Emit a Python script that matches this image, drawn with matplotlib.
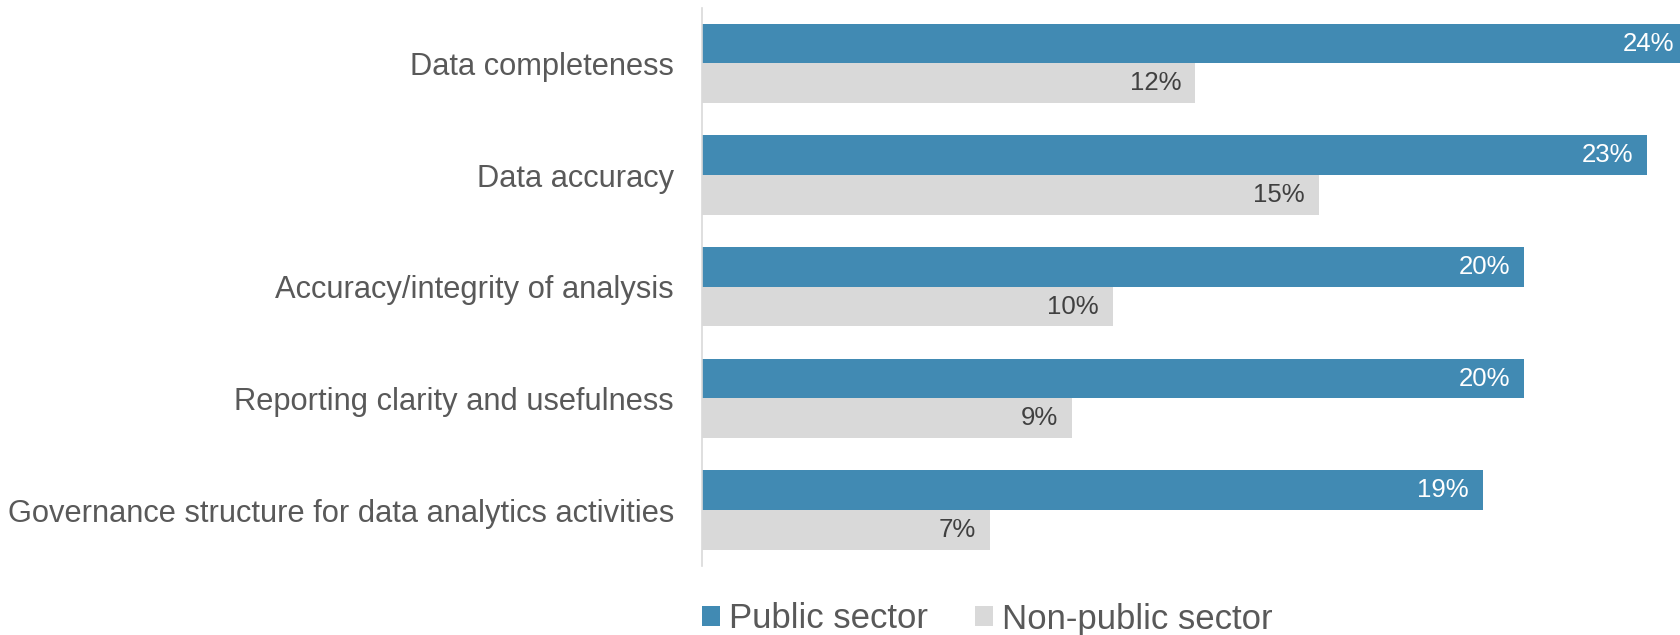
import matplotlib
matplotlib.use("Agg")
import matplotlib.pyplot as plt
from matplotlib.patches import Patch

plt.rcParams['font.family'] = ['Liberation Sans', 'DejaVu Sans']

categories = [
    "Data completeness",
    "Data accuracy",
    "Accuracy/integrity of analysis",
    "Reporting clarity and usefulness",
    "Governance structure for data analytics activities",
]
public_sector = [24, 23, 20, 20, 19]
non_public_sector = [12, 15, 10, 9, 7]
series_names = ["Public sector", "Non-public sector"]

BLUE = "#418AB3"
GREY = "#D9D9D9"
TEXT = "#595959"

W, H, DPI = 1680, 635, 100
fig = plt.figure(figsize=(W / DPI, H / DPI), dpi=DPI)

# axes spans past the right edge so the longest bar runs off the figure
px_per_unit = 41.1
x_max = 24
left_px, top_px, bottom_px = 702, 7.5, 566
ax = fig.add_axes([left_px / W, 1 - bottom_px / H,
                   x_max * px_per_unit / W, (bottom_px - top_px) / H])

bar_h = 0.355
ys = list(range(len(categories)))
y_pub = [y - bar_h / 2 for y in ys]
y_non = [y + bar_h / 2 for y in ys]

ax.barh(y_pub, public_sector, height=bar_h, color=BLUE, label=series_names[0])
ax.barh(y_non, non_public_sector, height=bar_h, color=GREY, label=series_names[1])

for y, v in zip(y_pub, public_sector):
    ax.annotate(f"{v}%", (v, y), xytext=(-14, 0), textcoords="offset pixels",
                ha="right", va="center", fontsize=18.5, color="white")
for y, v in zip(y_non, non_public_sector):
    ax.annotate(f"{v}%", (v, y), xytext=(-14, 0), textcoords="offset pixels",
                ha="right", va="center", fontsize=18.5, color="#404040")

ax.set_xlim(0, x_max)
ax.set_ylim(len(categories) - 0.5, -0.5)
ax.set_yticks(ys)
ax.set_yticklabels(categories, fontsize=22.2, color=TEXT)
ax.tick_params(axis="y", length=0, pad=20.2)
ax.set_xticks([])

for s in ("top", "right", "bottom"):
    ax.spines[s].set_visible(False)
ax.spines["left"].set_color("#D9D9D9")
ax.spines["left"].set_linewidth(1.2)

handles = [Patch(facecolor=BLUE), Patch(facecolor=GREY)]
leg = fig.legend(handles, series_names, loc="center",
                 bbox_to_anchor=(987.5 / W, 1 - 619 / H), ncol=2,
                 frameon=False, fontsize=25, handlelength=0.52,
                 handleheight=0.52, handletextpad=0.26, columnspacing=1.35,
                 borderpad=0, borderaxespad=0)
for t in leg.get_texts():
    t.set_color(TEXT)

fig.savefig("out.png", dpi=DPI)
